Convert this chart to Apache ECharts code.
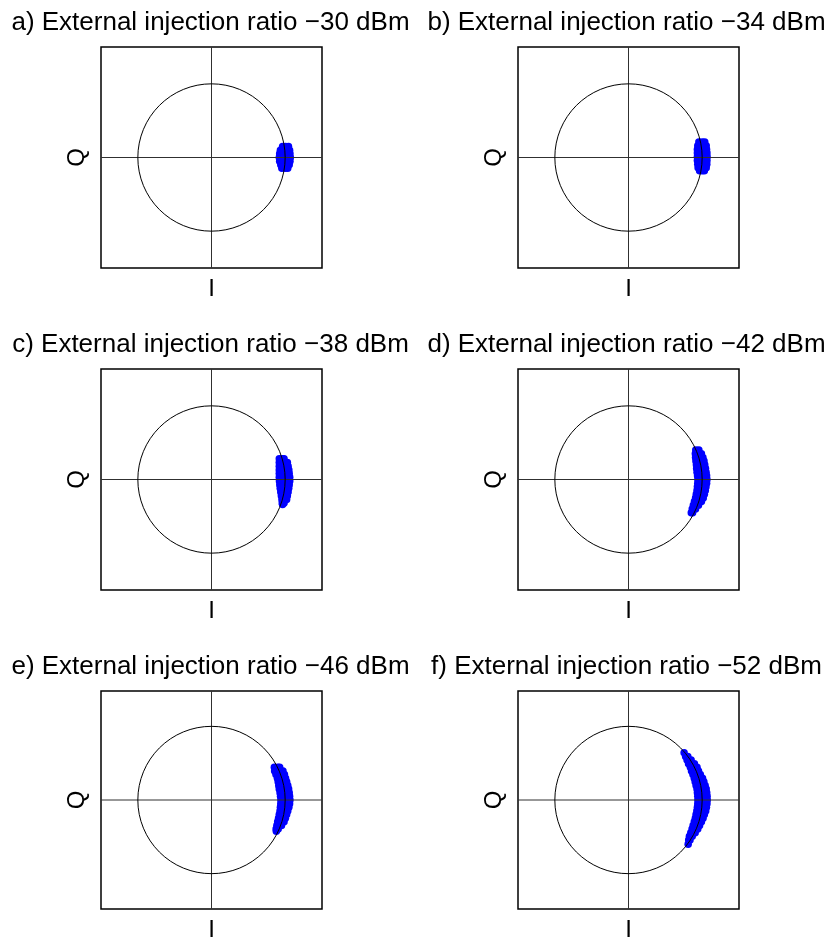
<!DOCTYPE html>
<html>
<head>
<meta charset="utf-8">
<script src="https://cdn.jsdelivr.net/npm/echarts@6/dist/echarts.min.js"></script>
<style>
  html, body { margin: 0; padding: 0; background: #fff; }
  #chart { width: 832px; height: 943px; }
</style>
</head>
<body>
<div id="chart"></div>
<script>
// Panel labels and the external injection ratio of each constellation (dBm)
const panelLabels = ['a)', 'b)', 'c)', 'd)', 'e)', 'f)'];
const injectionRatios = [-30, -34, -38, -42, -46, -52];
const axisNames = { x: 'I', y: 'Q' };
const axisRange = [-1.5, 1.5];

// Reference unit circle: [I centre, Q centre, radius]
const unitCircle = [[0, 0, 1]];

// Received symbol samples [I, Q] for each injection ratio
const samplesA = [
  [0.965, 0.15], [1.005, 0.15], [1.045, 0.15],
  [0.935, 0.10], [0.98, 0.10], [1.02, 0.10], [1.06, 0.10],
  [0.925, 0.05], [0.97, 0.05], [1.015, 0.05], [1.065, 0.05],
  [0.92, 0.0], [0.97, 0.0], [1.02, 0.0], [1.07, 0.0],
  [0.925, -0.05], [0.97, -0.05], [1.015, -0.05], [1.065, -0.05],
  [0.94, -0.10], [0.985, -0.10], [1.03, -0.10], [1.055, -0.10],
  [0.955, -0.145], [1.0, -0.145], [1.035, -0.145]
];
const samplesB = [
  [0.955, 0.21], [1.0, 0.21], [1.035, 0.21],
  [0.94, 0.16], [0.985, 0.16], [1.025, 0.16], [1.055, 0.16],
  [0.935, 0.11], [0.98, 0.11], [1.02, 0.11], [1.06, 0.11],
  [0.935, 0.06], [0.98, 0.06], [1.02, 0.06], [1.065, 0.06],
  [0.935, 0.01], [0.98, 0.01], [1.02, 0.01], [1.067, 0.01],
  [0.935, -0.04], [0.98, -0.04], [1.02, -0.04], [1.065, -0.04],
  [0.94, -0.09], [0.985, -0.09], [1.025, -0.09], [1.063, -0.09],
  [0.945, -0.14], [0.99, -0.14], [1.03, -0.14], [1.055, -0.14],
  [0.965, -0.18], [1.0, -0.18], [1.03, -0.18]
];
const samplesC = [
  [0.92, 0.28], [0.96, 0.28], [0.985, 0.28],
  [0.92, 0.23], [0.965, 0.23], [1.005, 0.23], [1.03, 0.23],
  [0.92, 0.18], [0.965, 0.18], [1.005, 0.18], [1.04, 0.18],
  [0.92, 0.13], [0.965, 0.13], [1.005, 0.13], [1.05, 0.13],
  [0.92, 0.08], [0.965, 0.08], [1.01, 0.08], [1.055, 0.08],
  [0.92, 0.03], [0.965, 0.03], [1.015, 0.03], [1.062, 0.03],
  [0.922, -0.02], [0.967, -0.02], [1.015, -0.02], [1.062, -0.02],
  [0.927, -0.07], [0.97, -0.07], [1.015, -0.07], [1.055, -0.07],
  [0.933, -0.12], [0.975, -0.12], [1.015, -0.12], [1.048, -0.12],
  [0.94, -0.17], [0.98, -0.17], [1.02, -0.17], [1.04, -0.17],
  [0.948, -0.22], [0.99, -0.22], [1.03, -0.22],
  [0.956, -0.27], [0.99, -0.27], [1.02, -0.27],
  [0.96, -0.32], [0.985, -0.32],
  [0.965, -0.34]
];
const samplesD = [
  [0.913, 0.40], [0.955, 0.40],
  [0.907, 0.35], [0.95, 0.35], [0.99, 0.35],
  [0.91, 0.30], [0.955, 0.30], [1.0, 0.30], [1.01, 0.30],
  [0.915, 0.25], [0.96, 0.25], [1.0, 0.25], [1.025, 0.25],
  [0.922, 0.20], [0.965, 0.20], [1.005, 0.20], [1.035, 0.20],
  [0.925, 0.15], [0.97, 0.15], [1.01, 0.15], [1.045, 0.15],
  [0.93, 0.10], [0.975, 0.10], [1.015, 0.10], [1.053, 0.10],
  [0.937, 0.05], [0.98, 0.05], [1.02, 0.05], [1.06, 0.05],
  [0.942, 0.0], [0.985, 0.0], [1.025, 0.0], [1.065, 0.0],
  [0.94, -0.05], [0.983, -0.05], [1.023, -0.05], [1.06, -0.05],
  [0.935, -0.10], [0.978, -0.10], [1.018, -0.10], [1.052, -0.10],
  [0.93, -0.15], [0.972, -0.15], [1.01, -0.15], [1.043, -0.15],
  [0.92, -0.20], [0.962, -0.20], [1.0, -0.20], [1.03, -0.20],
  [0.91, -0.25], [0.952, -0.25], [0.99, -0.25], [1.015, -0.25],
  [0.895, -0.30], [0.94, -0.30], [0.99, -0.30],
  [0.88, -0.35], [0.92, -0.35], [0.95, -0.35],
  [0.865, -0.40], [0.91, -0.40],
  [0.852, -0.45], [0.87, -0.45]
];
const samplesE = [
  [0.853, 0.45], [0.9, 0.45], [0.925, 0.45],
  [0.857, 0.40], [0.9, 0.40], [0.94, 0.40], [0.97, 0.40],
  [0.875, 0.35], [0.92, 0.35], [0.96, 0.35], [0.99, 0.35],
  [0.895, 0.30], [0.94, 0.30], [0.98, 0.30], [1.005, 0.30],
  [0.905, 0.25], [0.95, 0.25], [0.99, 0.25], [1.02, 0.25],
  [0.913, 0.20], [0.955, 0.20], [0.995, 0.20], [1.035, 0.20],
  [0.92, 0.15], [0.962, 0.15], [1.005, 0.15], [1.047, 0.15],
  [0.93, 0.10], [0.972, 0.10], [1.015, 0.10], [1.055, 0.10],
  [0.937, 0.05], [0.98, 0.05], [1.022, 0.05], [1.06, 0.05],
  [0.942, 0.0], [0.985, 0.0], [1.025, 0.0], [1.065, 0.0],
  [0.94, -0.05], [0.983, -0.05], [1.023, -0.05], [1.06, -0.05],
  [0.935, -0.10], [0.978, -0.10], [1.018, -0.10], [1.05, -0.10],
  [0.93, -0.15], [0.972, -0.15], [1.01, -0.15], [1.035, -0.15],
  [0.92, -0.20], [0.962, -0.20], [1.0, -0.20], [1.02, -0.20],
  [0.91, -0.25], [0.952, -0.25], [0.99, -0.25], [1.003, -0.25],
  [0.898, -0.30], [0.94, -0.30], [0.985, -0.30],
  [0.887, -0.35], [0.925, -0.35], [0.95, -0.35],
  [0.877, -0.40], [0.905, -0.40],
  [0.88, -0.43]
];
const samplesF = [
  [0.755, 0.65],
  [0.775, 0.60], [0.805, 0.60],
  [0.795, 0.55], [0.85, 0.55],
  [0.815, 0.50], [0.86, 0.50], [0.895, 0.50],
  [0.84, 0.45], [0.885, 0.45], [0.93, 0.45],
  [0.855, 0.40], [0.9, 0.40], [0.95, 0.40],
  [0.875, 0.35], [0.92, 0.35], [0.975, 0.35],
  [0.893, 0.30], [0.94, 0.30], [0.98, 0.30], [1.005, 0.30],
  [0.905, 0.25], [0.95, 0.25], [0.99, 0.25], [1.023, 0.25],
  [0.917, 0.20], [0.96, 0.20], [1.0, 0.20], [1.04, 0.20],
  [0.93, 0.15], [0.972, 0.15], [1.015, 0.15], [1.055, 0.15],
  [0.935, 0.10], [0.98, 0.10], [1.02, 0.10], [1.062, 0.10],
  [0.94, 0.05], [0.985, 0.05], [1.025, 0.05], [1.067, 0.05],
  [0.942, 0.0], [0.985, 0.0], [1.028, 0.0], [1.069, 0.0],
  [0.94, -0.05], [0.983, -0.05], [1.025, -0.05], [1.065, -0.05],
  [0.935, -0.10], [0.978, -0.10], [1.018, -0.10], [1.058, -0.10],
  [0.927, -0.15], [0.97, -0.15], [1.01, -0.15], [1.048, -0.15],
  [0.917, -0.20], [0.96, -0.20], [1.0, -0.20], [1.03, -0.20],
  [0.907, -0.25], [0.95, -0.25], [0.99, -0.25], [1.012, -0.25],
  [0.893, -0.30], [0.94, -0.30], [0.99, -0.30],
  [0.877, -0.35], [0.92, -0.35], [0.965, -0.35],
  [0.863, -0.40], [0.905, -0.40], [0.94, -0.40],
  [0.845, -0.45], [0.885, -0.45], [0.905, -0.45],
  [0.827, -0.50], [0.865, -0.50],
  [0.817, -0.55], [0.835, -0.55],
  [0.81, -0.61]
];
const panelSamples = [samplesA, samplesB, samplesC, samplesD, samplesE, samplesF];

// ---- layout ----
const FONT = 'Liberation Sans, Arial, Helvetica, sans-serif';
const colLeft = [101, 518];
const colCenter = [210.5, 626.5];
const rowTop = [47, 369, 691];
const boxSize = 221;

const chart = echarts.init(document.getElementById('chart'), null, { renderer: 'canvas' });

const grids = [], xAxes = [], yAxes = [], series = [], titles = [];

panelSamples.forEach((samples, i) => {
  const col = i % 2, row = Math.floor(i / 2);
  grids.push({
    left: colLeft[col], top: rowTop[row], width: boxSize, height: boxSize,
    show: true, borderColor: '#000', borderWidth: 1.5, backgroundColor: '#fff'
  });
  xAxes.push({
    type: 'value', gridIndex: i, min: axisRange[0], max: axisRange[1],
    axisLine: { show: false }, axisTick: { show: false },
    axisLabel: { show: false }, splitLine: { show: false },
    name: axisNames.x, nameLocation: 'middle', nameGap: 9,
    nameTextStyle: { fontFamily: FONT, fontSize: 24, color: '#000' }
  });
  yAxes.push({
    type: 'value', gridIndex: i, min: axisRange[0], max: axisRange[1],
    axisLine: { show: false }, axisTick: { show: false },
    axisLabel: { show: false }, splitLine: { show: false },
    name: axisNames.y, nameLocation: 'middle', nameGap: 12,
    nameTextStyle: { fontFamily: FONT, fontSize: 24, color: '#000' }
  });
  series.push({
    type: 'scatter', xAxisIndex: i, yAxisIndex: i, data: samples,
    symbol: 'circle', symbolSize: 7.5, z: 2,
    itemStyle: { color: '#0000ff', opacity: 1 },
    emphasis: { disabled: true }, animation: false
  });
  series.push({
    type: 'custom', xAxisIndex: i, yAxisIndex: i, data: unitCircle, z: 3,
    animation: false, silent: true,
    renderItem: (params, api) => {
      const c = api.coord([api.value(0), api.value(1)]);
      const r = api.size([api.value(2), 0])[0];
      const xl = api.coord([axisRange[0], api.value(1)]);
      const xr = api.coord([axisRange[1], api.value(1)]);
      const yb = api.coord([api.value(0), axisRange[0]]);
      const yt = api.coord([api.value(0), axisRange[1]]);
      return {
        type: 'group',
        children: [
          { type: 'line', shape: { x1: xl[0], y1: xl[1], x2: xr[0], y2: xr[1] },
            style: { stroke: '#303030', lineWidth: 1 } },
          { type: 'line', shape: { x1: yb[0], y1: yb[1], x2: yt[0], y2: yt[1] },
            style: { stroke: '#303030', lineWidth: 1 } },
          { type: 'circle', shape: { cx: c[0], cy: c[1], r: r },
            style: { fill: 'none', stroke: '#000', lineWidth: 1 } }
        ]
      };
    }
  });
  titles.push({
    text: `${panelLabels[i]} External injection ratio \u2212${Math.abs(injectionRatios[i])} dBm`,
    left: colCenter[col], top: rowTop[row] - 37, textAlign: 'center', padding: 0,
    textStyle: { fontFamily: FONT, fontSize: 26, fontWeight: 'normal', color: '#000' }
  });
});

chart.setOption({
  animation: false,
  backgroundColor: '#fff',
  title: titles,
  grid: grids,
  xAxis: xAxes,
  yAxis: yAxes,
  series: series
});
</script>
</body>
</html>
